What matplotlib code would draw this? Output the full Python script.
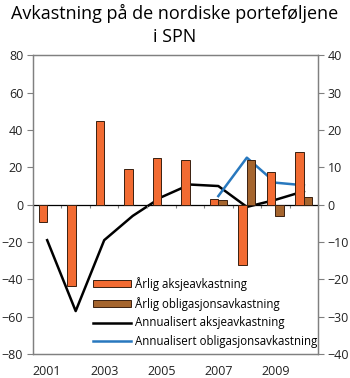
import matplotlib
matplotlib.use("Agg")
import matplotlib.pyplot as plt
import numpy as np
from matplotlib.patches import Patch
from matplotlib.lines import Line2D

years = [2001, 2002, 2003, 2004, 2005, 2006, 2007, 2008, 2009, 2010]
aksje_arlig = [-9.5, -43.5, 45, 19, 25, 24, 3, -32.5, 17.6, 28.3]
oblig_arlig = [None, None, None, None, None, None, 2.5, 23.7, -6.3, 3.9]
aksje_annual = [-9.5, -28.5, -9.5, -3.0, 2.0, 5.4, 5.0, -0.6, 1.3, 3.6]
oblig_annual = [None, None, None, None, None, None, 2.3, 12.6, 5.9, 5.2]
xtick_labels = ["2001", "2003", "2005", "2007", "2009"]
legend_labels = ["Årlig aksjeavkastning", "Årlig obligasjonsavkastning",
                 "Annualisert aksjeavkastning", "Annualisert obligasjonsavkastning"]
title = "Avkastning på de nordiske porteføljene\ni SPN"

c_orange = "#F26B32"
c_brown = "#A5652E"
c_blue = "#2878BE"
c_spine = "#808080"

plt.rcParams['font.family'] = ['Open Sans', 'DejaVu Sans']

fig = plt.figure(figsize=(3.5, 3.78), dpi=100)
ax = fig.add_axes([0.094, 0.0635, 0.815, 0.79])
ax2 = ax.twinx()

x = np.arange(len(years))
w = 0.3
for i, v in enumerate(aksje_arlig):
    if v is not None:
        ax.bar(x[i] - w / 2, v, width=w, color=c_orange, edgecolor="#3a2010", linewidth=0.7, zorder=3)
for i, v in enumerate(oblig_arlig):
    if v is not None:
        ax.bar(x[i] + w / 2, v, width=w, color=c_brown, edgecolor="#3a2010", linewidth=0.7, zorder=3)

ax.axhline(0, color="black", lw=0.9, zorder=2)
bounds = np.arange(len(years) + 1) - 0.5
ax.vlines(bounds[1:-1], -1.8, 0, color=c_spine, lw=0.8, zorder=1)

ya = [np.nan if v is None else v for v in aksje_annual]
yo = [np.nan if v is None else v for v in oblig_annual]
ax2.plot(x, ya, color="black", lw=1.8, zorder=4)
ax2.plot(x, yo, color=c_blue, lw=1.8, zorder=4)

ax.set_xlim(-0.5, len(years) - 0.5)
ax.set_ylim(-80, 80)
ax2.set_ylim(-40, 40)
ax.set_yticks(np.arange(-80, 81, 20))
ax2.set_yticks(np.arange(-40, 41, 10))
ax.set_xticks([x[years.index(int(s))] for s in xtick_labels])
ax.set_xticklabels(xtick_labels)

for a in (ax, ax2):
    for s in a.spines.values():
        s.set_color(c_spine)
        s.set_linewidth(0.9)
    a.tick_params(axis='y', labelsize=9, length=4, width=0.8, color=c_spine, pad=3, colors='#222222')
ax.tick_params(axis='y', direction='out')
ax2.tick_params(axis='y', direction='out')
ax.tick_params(axis='x', length=0, labelsize=9, pad=8, colors='#222222')
ax.set_zorder(ax2.get_zorder() + 1)
ax.patch.set_visible(False)

handles = [Patch(facecolor=c_orange, edgecolor="#3a2010", linewidth=0.7),
           Patch(facecolor=c_brown, edgecolor="#3a2010", linewidth=0.7),
           Line2D([], [], color="black", lw=1.8),
           Line2D([], [], color=c_blue, lw=1.8)]
ax.legend(handles, legend_labels, loc="upper left", bbox_to_anchor=(0.21, 0.258),
          frameon=False, fontsize=8.3, handlelength=3.3, handleheight=0.55,
          handletextpad=0.4, labelspacing=0.5, borderpad=0, borderaxespad=0)

fig.suptitle(title, fontsize=13, y=0.99, va="top", linespacing=1.35)

fig.savefig("out.png", dpi=100)
